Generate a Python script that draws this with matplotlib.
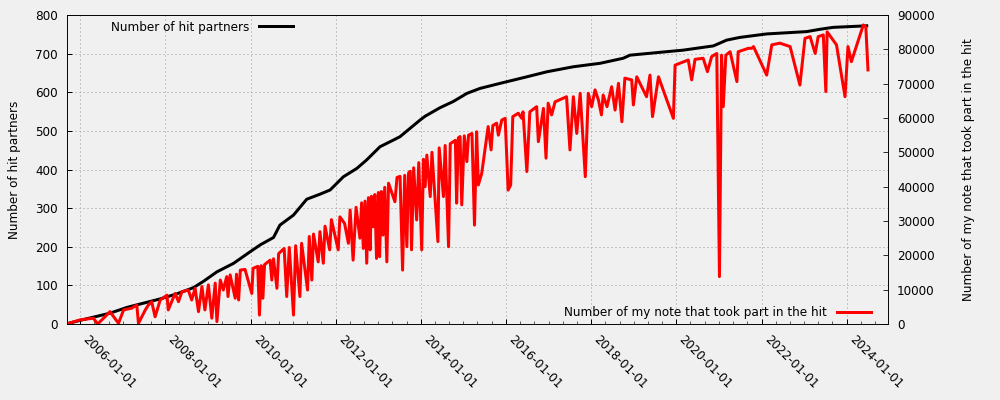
import matplotlib
matplotlib.use('Agg')
import matplotlib.pyplot as plt
import matplotlib.dates as mdates
import numpy as np
import pandas as pd

# hit partners (left axis), date as decimal year
partner_years = [2005.77, 2006.02, 2006.70, 2007.10, 2007.49, 2007.88, 2008.27, 2008.66,
                 2008.89, 2009.21, 2009.60, 2009.99, 2010.23, 2010.54, 2010.69, 2011.01,
                 2011.32, 2011.63, 2011.87, 2012.18, 2012.50, 2012.73, 2013.04, 2013.35,
                 2013.51, 2013.98, 2014.10, 2014.45, 2014.76, 2015.08, 2015.39, 2015.86,
                 2016.49, 2016.96, 2017.58, 2018.21, 2018.75, 2018.91, 2019.77, 2020.16,
                 2020.87, 2021.18, 2021.49, 2022.12, 2023.06, 2023.37, 2023.68, 2024.47]
partners = [3, 10, 28, 43, 54, 65, 78, 94,
            110, 135, 157, 187, 205, 224, 256, 282,
            323, 336, 347, 381, 403, 425, 459, 476,
            485, 528, 538, 560, 576, 597, 610, 623,
            640, 653, 666, 675, 688, 696, 705, 709,
            720, 735, 742, 751, 757, 763, 768, 772]

# my notes in the hit (right axis), thousands
note_years = [2005.73, 2006.00, 2006.31, 2006.41, 2006.55, 2006.70, 2006.90, 2007.02,
              2007.21, 2007.33, 2007.37, 2007.53, 2007.60, 2007.68, 2007.76, 2007.88,
              2008.04, 2008.07, 2008.23, 2008.31, 2008.39, 2008.54, 2008.62, 2008.70,
              2008.78, 2008.86, 2008.93, 2009.01, 2009.09, 2009.17, 2009.21, 2009.29,
              2009.36, 2009.44, 2009.47, 2009.52, 2009.64, 2009.67, 2009.72, 2009.76,
              2009.87, 2010.03, 2010.06, 2010.17, 2010.21, 2010.25, 2010.29, 2010.33,
              2010.46, 2010.50, 2010.54, 2010.62, 2010.66, 2010.79, 2010.85, 2010.91,
              2011.01, 2011.06, 2011.16, 2011.20, 2011.34, 2011.38, 2011.44, 2011.48,
              2011.59, 2011.63, 2011.71, 2011.75, 2011.86, 2011.90, 2012.06, 2012.10,
              2012.21, 2012.30, 2012.34, 2012.41, 2012.48, 2012.57, 2012.61, 2012.65,
              2012.69, 2012.73, 2012.77, 2012.81, 2012.84, 2012.88, 2012.92, 2012.96,
              2013.00, 2013.03, 2013.07, 2013.11, 2013.15, 2013.20, 2013.24, 2013.39,
              2013.44, 2013.51, 2013.57, 2013.62, 2013.67, 2013.71, 2013.75, 2013.78,
              2013.83, 2013.90, 2013.95, 2014.02, 2014.06, 2014.10, 2014.14, 2014.22,
              2014.26, 2014.40, 2014.43, 2014.53, 2014.57, 2014.65, 2014.69, 2014.81,
              2014.84, 2014.88, 2014.92, 2014.96, 2015.02, 2015.08, 2015.12, 2015.20,
              2015.26, 2015.31, 2015.35, 2015.43, 2015.58, 2015.65, 2015.69, 2015.78,
              2015.82, 2015.90, 2015.98, 2016.05, 2016.11, 2016.16, 2016.29, 2016.37,
              2016.40, 2016.49, 2016.56, 2016.72, 2016.76, 2016.88, 2016.94, 2016.99,
              2017.07, 2017.15, 2017.42, 2017.50, 2017.58, 2017.66, 2017.74, 2017.86,
              2017.93, 2018.01, 2018.09, 2018.17, 2018.24, 2018.28, 2018.37, 2018.48,
              2018.56, 2018.64, 2018.72, 2018.79, 2018.95, 2018.99, 2019.07, 2019.30,
              2019.38, 2019.44, 2019.58, 2019.93, 2019.97, 2020.28, 2020.36, 2020.44,
              2020.63, 2020.73, 2020.83, 2020.95, 2021.01, 2021.06, 2021.10, 2021.16,
              2021.26, 2021.42, 2021.45, 2021.69, 2021.77, 2021.81, 2022.12, 2022.24,
              2022.43, 2022.67, 2022.90, 2023.02, 2023.14, 2023.26, 2023.33, 2023.45,
              2023.51, 2023.54, 2023.76, 2023.96, 2024.03, 2024.11, 2024.39, 2024.45,
              2024.50]
notes_k = [0.2, 1.2, 1.7, 0.0, 1.7, 3.6, 0.2, 4.1,
           4.6, 5.5, 0.2, 4.1, 5.5, 6.5, 2.1, 7.0,
           8.4, 4.1, 8.9, 6.5, 9.4, 9.9, 7.0, 10.4,
           3.6, 10.9, 4.1, 11.4, 1.7, 11.9, 0.7, 12.8,
           9.9, 13.8, 8.0, 14.3, 7.5, 14.5, 7.0, 15.7,
           15.9, 8.9, 16.2, 16.8, 2.6, 17.0, 7.5, 17.3,
           18.6, 12.8, 19.0, 10.4, 20.5, 22.0, 8.0, 22.3,
           2.6, 22.8, 8.0, 23.5, 9.9, 25.5, 12.8, 26.2,
           18.1, 26.9, 17.7, 28.5, 21.6, 30.4, 21.6, 31.2,
           29.3, 23.5, 33.2, 18.6, 34.0, 25.0, 35.3, 22.0,
           35.8, 17.7, 36.8, 21.6, 37.2, 28.3, 37.7, 19.1,
           38.3, 19.6, 38.6, 25.9, 39.8, 18.1, 41.0, 35.6,
           42.7, 43.0, 15.7, 43.3, 22.5, 44.0, 44.5, 21.6,
           45.5, 30.3, 47.0, 21.6, 48.0, 40.0, 49.2, 37.1,
           50.0, 24.0, 51.3, 37.1, 52.0, 22.5, 52.5, 53.5,
           35.2, 54.2, 54.6, 34.7, 54.8, 47.3, 55.0, 55.5,
           28.8, 56.0, 40.5, 43.9, 57.5, 50.7, 57.8, 58.5,
           55.0, 59.4, 59.9, 39.0, 40.5, 60.4, 61.4, 59.9,
           61.8, 44.4, 61.8, 63.3, 53.1, 62.8, 48.3, 64.3,
           60.9, 64.7, 66.2, 50.7, 66.2, 55.5, 67.2, 42.9,
           67.2, 63.3, 68.2, 65.2, 60.9, 66.7, 63.3, 69.1,
           62.3, 70.1, 58.9, 71.6, 71.1, 63.8, 72.0, 66.2,
           72.5, 60.4, 72.0, 59.9, 75.4, 76.9, 71.1, 77.1,
           77.4, 73.5, 77.9, 78.8, 13.8, 78.3, 63.3, 78.3,
           79.3, 70.6, 79.3, 80.3, 80.3, 80.8, 72.5, 81.3,
           81.8, 80.8, 69.6, 83.2, 83.7, 78.8, 83.7, 84.2,
           67.7, 85.1, 81.3, 66.2, 80.8, 76.4, 87.1, 86.5,
           74.0]


def to_dates(years):
    out = []
    for y in years:
        yi = int(np.floor(y))
        out.append(pd.Timestamp(year=yi, month=1, day=1) + pd.Timedelta(days=(y - yi) * 365.25))
    return out


bg = '#f0f0f0'
# 72 dpi so that points == pixels
fig = plt.figure(figsize=(1000 / 72, 400 / 72), dpi=72, facecolor=bg)
ax = fig.add_axes([0.067, 0.19, 0.821, 0.7725], facecolor=bg)
ax2 = ax.twinx()

ax.plot(to_dates(partner_years), partners, color='k', lw=3, label='Number of hit partners')
ax2.plot(to_dates(note_years), np.array(notes_k) * 1000, color='r', lw=3,
         label='Number of my note that took part in the hit')

ax.set_ylim(0, 800)
ax2.set_ylim(0, 90000)
ax.set_xlim(to_dates([2005.69, 2024.97]))
ax.set_yticks(range(0, 801, 100))
ax2.set_yticks(range(0, 90001, 10000))

ax.xaxis.set_major_locator(mdates.YearLocator(2))
ax.xaxis.set_major_formatter(mdates.DateFormatter('%Y-%m-%d'))
ax.xaxis.set_minor_locator(mdates.MonthLocator(bymonth=[1, 5, 9]))
for lbl in ax.get_xticklabels():
    lbl.set_rotation(-45)
    lbl.set_ha('left')

ax.tick_params(which='both', direction='in', labelsize=12, pad=9)
ax.tick_params(which='major', length=5, width=1)
ax.tick_params(which='minor', length=3)
ax2.tick_params(direction='in', length=5, labelsize=12, pad=9)

ax.grid(True, linestyle=(0, (1, 3)), color='#999999', lw=1)

ax.set_ylabel('Number of hit partners', fontsize=12, labelpad=14)
ax2.set_ylabel('Number of my note that took part in the hit', fontsize=12, labelpad=27)

ax.legend(loc='upper left', bbox_to_anchor=(0.04, 1.017), frameon=False,
          markerfirst=False, handlelength=2.9, fontsize=12)
ax2.legend(loc='lower right', bbox_to_anchor=(0.993, -0.02), frameon=False,
           markerfirst=False, handlelength=2.9, fontsize=12)

fig.savefig('out.png', dpi=72, facecolor=bg)
